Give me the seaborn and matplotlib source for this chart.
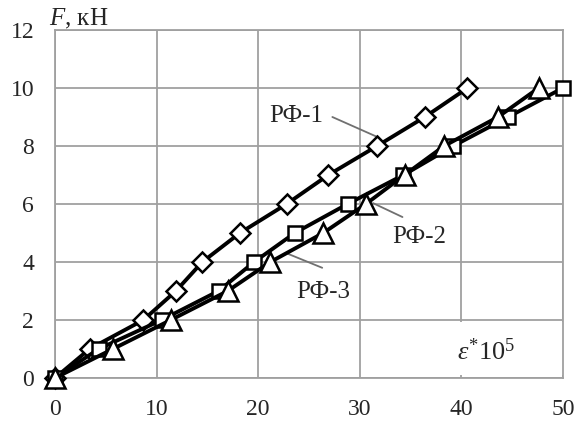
import matplotlib
matplotlib.use("Agg")
import matplotlib.pyplot as plt
from matplotlib.patches import Rectangle
import seaborn as sns
import pandas as pd

eps_rf1 = [0, 3.4, 8.7, 11.9, 14.5, 18.2, 22.8, 26.9, 31.7, 36.4, 40.6]
eps_rf2 = [0, 4.3, 10.5, 16.1, 19.6, 23.6, 28.8, 34.3, 39.2, 44.6, 50.0]
eps_rf3 = [0, 5.7, 11.4, 17.0, 21.2, 26.4, 30.6, 34.4, 38.3, 43.6, 47.6]
force = [0, 1, 2, 3, 4, 5, 6, 7, 8, 9, 10]
series_names = ["РФ-1", "РФ-2", "РФ-3"]
x_ticks = [0, 10, 20, 30, 40, 50]
y_ticks = [0, 2, 4, 6, 8, 10, 12]

sns.set_style("white")
plt.rcParams["font.family"] = "serif"
plt.rcParams["font.serif"] = ["Liberation Serif"]
plt.rcParams["mathtext.fontset"] = "custom"
plt.rcParams["mathtext.it"] = "Liberation Serif:italic"
plt.rcParams["mathtext.rm"] = "Liberation Serif"
plt.rcParams["mathtext.bf"] = "Liberation Serif:bold"

fig = plt.figure(figsize=(5.8, 4.22), dpi=100)
ax = fig.add_axes([0.0948, 0.1043, 0.9707 - 0.0948, 0.9289 - 0.1043])

df = pd.concat([
    pd.DataFrame({"eps": eps_rf1, "F": force, "s": series_names[0]}),
    pd.DataFrame({"eps": eps_rf2, "F": force, "s": series_names[1]}),
    pd.DataFrame({"eps": eps_rf3, "F": force, "s": series_names[2]}),
])

styles = {
    "РФ-1": dict(marker="D", ms=10),
    "РФ-2": dict(marker="s", ms=10),
    "РФ-3": dict(marker="^", ms=15),
}
for name in series_names:
    sub = df[df["s"] == name]
    sns.lineplot(data=sub, x="eps", y="F", ax=ax, color="black", lw=2.8,
                 marker=styles[name]["marker"], markersize=styles[name]["ms"],
                 markerfacecolor="white", markeredgecolor="black",
                 markeredgewidth=1.8, legend=False, sort=False, zorder=3,
                 clip_on=False)

ax.set_xlim(0, 50)
ax.set_ylim(0, 12)
ax.set_xticks(x_ticks)
ax.set_yticks(y_ticks)
ax.grid(True, color="#a0a0a0", lw=1.3)
for sp in ax.spines.values():
    sp.set_color("#a0a0a0")
    sp.set_linewidth(1.3)
ax.tick_params(axis="both", which="both", direction="out", length=7,
               color="#a0a0a0", width=1.3, labelsize=17, pad=8)
ax.set_xlabel("")
ax.set_ylabel("")
ax.set_axisbelow(True)

# white box behind the axis caption
ax.add_patch(Rectangle((37.6, 0.1), 12.4, 1.83, facecolor="white",
                       edgecolor="none", zorder=1.5))

# annotations
lc = "#707070"
ax.plot([27.3, 31.8], [9.0, 8.3], color=lc, lw=1.3, zorder=2)
ax.text(23.7, 8.83, "РФ-1", fontsize=18, ha="center", va="baseline")
ax.plot([31.3, 34.2], [6.03, 5.55], color=lc, lw=1.3, zorder=2)
ax.text(35.8, 4.66, "РФ-2", fontsize=18, ha="center", va="baseline")
ax.plot([22.8, 26.3], [4.3, 3.8], color=lc, lw=1.3, zorder=2)
ax.text(26.4, 2.76, "РФ-3", fontsize=18, ha="center", va="baseline")

ax.text(42.4, 0.62, r"$\varepsilon^{*}10^{5}$", fontsize=19, ha="center",
        va="baseline", zorder=4)
ax.text(-0.6, 12.14, r"$F$, кН", fontsize=18, ha="left", va="baseline",
        clip_on=False)

fig.savefig("out.png", dpi=100)
